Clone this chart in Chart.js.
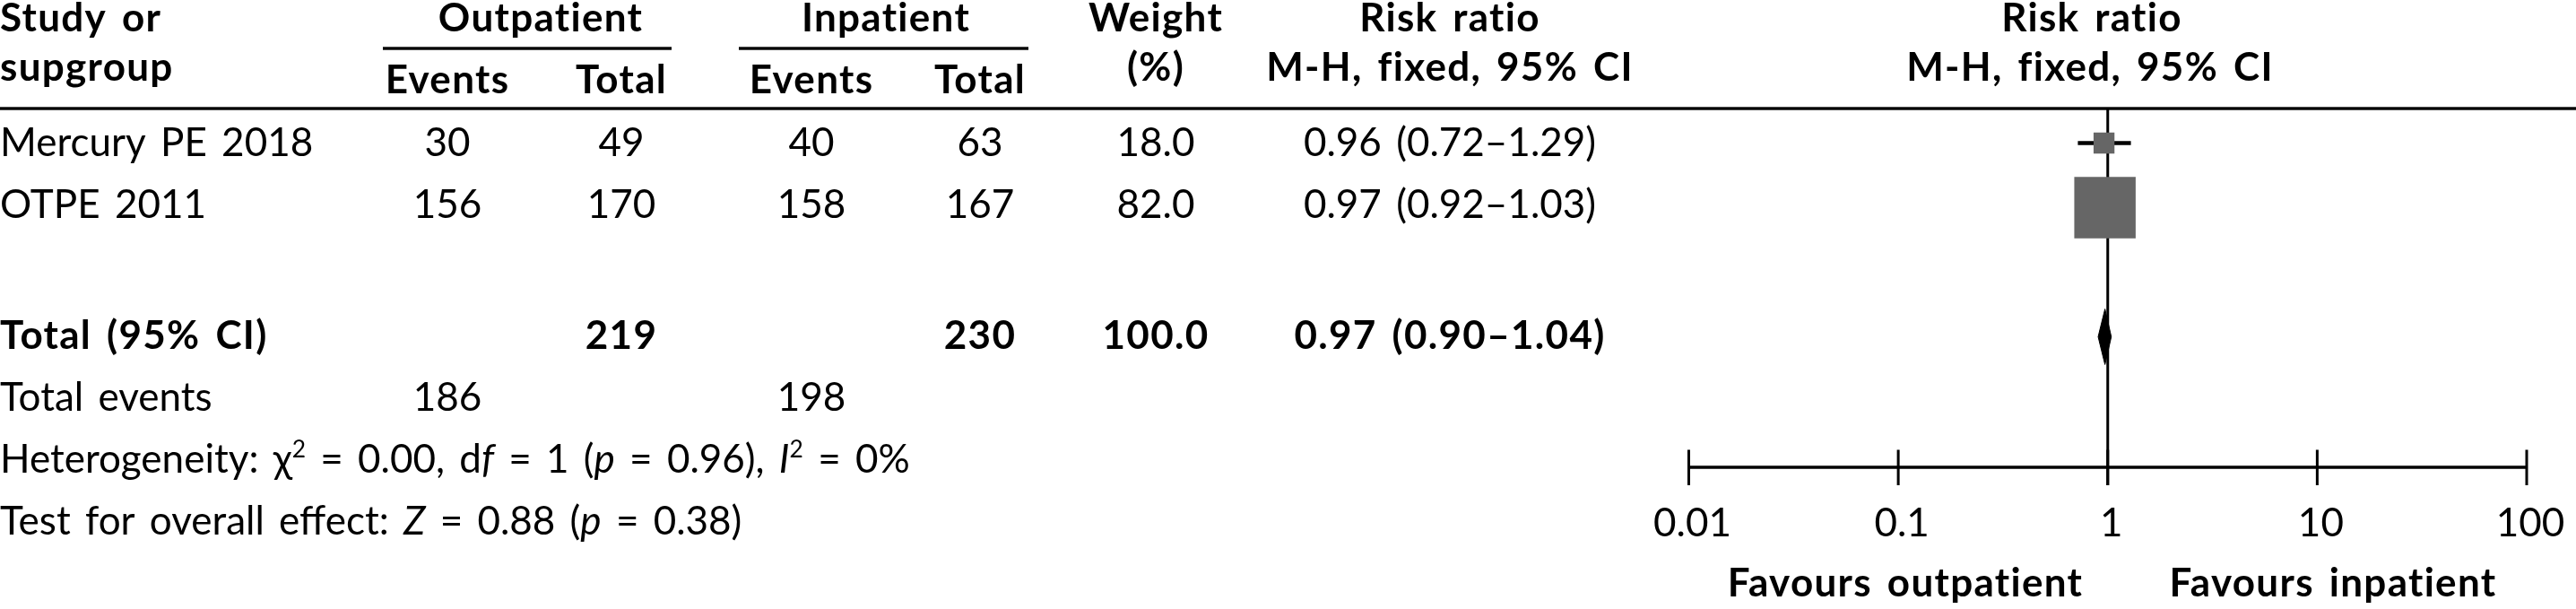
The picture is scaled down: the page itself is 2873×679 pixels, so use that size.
<!DOCTYPE html>
<html lang="en">
<head>
<meta charset="UTF-8">
<title>Outpatient vs inpatient - forest plot</title>
<script src="https://cdn.jsdelivr.net/npm/chart.js"></script>
<style>
  html, body { margin: 0; padding: 0; background: #fff; }
  canvas { display: block; }
</style>
</head>
<body>
<canvas id="forest" width="2873" height="679"></canvas>
<script>
// values
const studies = ['Mercury PE 2018', 'OTPE 2011'];
const outEvents = [30, 156];
const outTotal = [49, 170];
const inEvents = [40, 158];
const inTotal = [63, 167];
const weights = ['18.0', '82.0'];
const rr = [0.96, 0.97];
const rrLow = [0.72, 0.92];
const rrHigh = [1.29, 1.03];
const studyRows = [1, 2];
const totalRow = 4;
const totalOut = 219;
const totalIn = 230;
const totalWeight = '100.0';
const pooledRR = 0.97;
const pooledLow = 0.90;
const pooledHigh = 1.04;
const totalEventsOut = 186;
const totalEventsIn = 198;
const xTicks = [0.01, 0.1, 1, 10, 100];
const xTickLabels = ['0.01', '0.1', '1', '10', '100'];

// styling
const FONT = 'Lato, "DejaVu Sans", sans-serif';
const FS = 44;
const markerRadius = [16.5, 48.4];
const diamondHalf = 0.43;

// table layout (column centres and baselines in px)
const col = { outE: 499, outT: 693, inE: 905, inT: 1093, w: 1289, rr: 1617 };
const base = { h1: 35, h2: 90, sub: 104, rows: [174, 243], total: 389, events: 458, het: 527, test: 596 };

function ciText(v, lo, hi) {
    return v.toFixed(2) + ' (' + lo.toFixed(2) + '\u2013' + hi.toFixed(2) + ')';
}

function setFont(ctx, bold, italic, size) {
    ctx.font = (italic ? 'italic ' : '') + (bold ? 'bold ' : '') + (size || FS) + 'px ' + FONT;
    ctx.wordSpacing = '5px';
    ctx.letterSpacing = bold ? '1.3px' : '0px';
}

const forestPlugin = {
    id: 'forestTable',
    beforeDatasetsDraw(chart) {
        const ctx = chart.ctx;
        const x = chart.scales.x;
        const area = chart.chartArea;
        ctx.save();
        ctx.fillStyle = '#000';
        // line of no effect
        const x1 = x.getPixelForValue(1);
        ctx.fillRect(x1 - 1.5, area.top, 3, area.bottom + 20 - area.top);
        // axis
        const xa = x.getPixelForValue(xTicks[0]);
        const xb = x.getPixelForValue(xTicks[xTicks.length - 1]);
        ctx.fillRect(xa, area.bottom - 1.75, xb - xa, 3.5);
        setFont(ctx, false);
        ctx.textAlign = 'center';
        ctx.textBaseline = 'alphabetic';
        xTicks.forEach((t, i) => {
            const px = x.getPixelForValue(t);
            ctx.fillRect(px - 1.5, area.bottom - 19.5, 3, 39.5);
            ctx.fillText(xTickLabels[i], px + 4, 598);
        });
        setFont(ctx, true);
        ctx.fillText('Favours outpatient', 2125, 665);
        ctx.fillText('Favours inpatient', 2602, 665);
        ctx.restore();
    },
    afterDraw(chart) {
        const ctx = chart.ctx;
        ctx.save();
        ctx.fillStyle = '#000';
        ctx.textBaseline = 'alphabetic';
        const put = (s, px, py, align, bold) => {
            setFont(ctx, bold);
            ctx.textAlign = align;
            ctx.fillText(s, px, py);
        };

        // rules
        ctx.fillRect(0, 119.3, chart.width, 3.4);
        ctx.fillRect(427, 52.3, 322, 3.4);
        ctx.fillRect(824, 52.3, 323, 3.4);

        // header
        put('Study or', 0, base.h1, 'left', true);
        put('supgroup', 0, base.h2, 'left', true);
        put('Outpatient', 603, base.h1, 'center', true);
        put('Inpatient', 988, base.h1, 'center', true);
        put('Events', col.outE, base.sub, 'center', true);
        put('Total', col.outT, base.sub, 'center', true);
        put('Events', col.inE, base.sub, 'center', true);
        put('Total', col.inT, base.sub, 'center', true);
        put('Weight', col.w, base.h1, 'center', true);
        put('(%)', col.w, base.h2, 'center', true);
        put('Risk ratio', col.rr, base.h1, 'center', true);
        put('M-H, fixed, 95% CI', col.rr, base.h2, 'center', true);
        put('Risk ratio', 2333, base.h1, 'center', true);
        put('M-H, fixed, 95% CI', 2331, base.h2, 'center', true);

        // study rows
        studies.forEach((s, i) => {
            const b = base.rows[i];
            put(s, 0, b, 'left', false);
            put(String(outEvents[i]), col.outE, b, 'center', false);
            put(String(outTotal[i]), col.outT, b, 'center', false);
            put(String(inEvents[i]), col.inE, b, 'center', false);
            put(String(inTotal[i]), col.inT, b, 'center', false);
            put(weights[i], col.w, b, 'center', false);
            put(ciText(rr[i], rrLow[i], rrHigh[i]), col.rr, b, 'center', false);
        });

        // total row
        put('Total (95% CI)', 0, base.total, 'left', true);
        put(String(totalOut), col.outT, base.total, 'center', true);
        put(String(totalIn), col.inT, base.total, 'center', true);
        put(totalWeight, col.w, base.total, 'center', true);
        put(ciText(pooledRR, pooledLow, pooledHigh), col.rr, base.total, 'center', true);

        put('Total events', 0, base.events, 'left', false);
        put(String(totalEventsOut), col.outE, base.events, 'center', false);
        put(String(totalEventsIn), col.inE, base.events, 'center', false);

        // lines with italics and superscripts
        const rich = (segs, x0, b) => {
            let cx = x0;
            ctx.textAlign = 'left';
            segs.forEach(sg => {
                setFont(ctx, false, sg.it, sg.sup ? FS * 0.6 : FS);
                ctx.fillText(sg.t, cx, sg.sup ? b - FS * 0.38 : b);
                cx += ctx.measureText(sg.t).width;
            });
        };
        rich([
            { t: 'Heterogeneity: \u03c7' }, { t: '2', sup: true },
            { t: ' = 0.00, d' }, { t: 'f', it: true }, { t: ' = 1 (' }, { t: 'p', it: true },
            { t: ' = 0.96), ' }, { t: 'I', it: true }, { t: '2', sup: true }, { t: ' = 0%' }
        ], 0, base.het);
        rich([
            { t: 'Test for overall effect: ' }, { t: 'Z', it: true }, { t: ' = 0.88 (' },
            { t: 'p', it: true }, { t: ' = 0.38)' }
        ], 0, base.test);
        ctx.restore();
    }
};

new Chart(document.getElementById('forest'), {
    type: 'scatter',
    data: {
        datasets: [
            ...studies.map((s, i) => ({
                type: 'line',
                label: s + ' CI',
                data: [{ x: rrLow[i], y: studyRows[i] }, { x: rrHigh[i], y: studyRows[i] }],
                borderColor: '#000',
                borderWidth: 4.5,
                pointRadius: 0,
                fill: false,
                order: 3
            })),
            {
                label: 'Studies',
                data: rr.map((v, i) => ({ x: v, y: studyRows[i] })),
                pointStyle: 'rect',
                pointRadius: markerRadius,
                pointHoverRadius: markerRadius,
                pointBackgroundColor: '#666666',
                pointBorderColor: '#666666',
                pointBorderWidth: 0,
                order: 2
            },
            {
                type: 'line',
                label: 'Total',
                data: [
                    { x: pooledLow, y: totalRow },
                    { x: pooledRR, y: totalRow - diamondHalf },
                    { x: pooledHigh, y: totalRow },
                    { x: pooledRR, y: totalRow + diamondHalf },
                    { x: pooledLow, y: totalRow }
                ],
                borderColor: '#000',
                backgroundColor: '#000',
                borderWidth: 1,
                pointRadius: 0,
                tension: 0,
                fill: 'shape',
                order: 1
            }
        ]
    },
    options: {
        responsive: false,
        animation: false,
        devicePixelRatio: 1,
        layout: { padding: { left: 1883.5, right: 55, top: 121, bottom: 158 } },
        plugins: { legend: { display: false }, tooltip: { enabled: false } },
        scales: {
            x: { type: 'logarithmic', min: 0.01, max: 100, display: false },
            y: { type: 'linear', min: 0.465, max: 6.021, reverse: true, display: false }
        }
    },
    plugins: [forestPlugin]
});
</script>
</body>
</html>
